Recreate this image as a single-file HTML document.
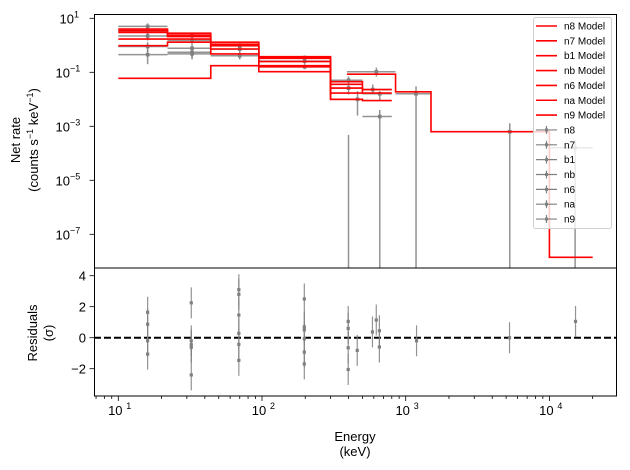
<!DOCTYPE html>
<html><head><meta charset="utf-8">
<style>
html,body{margin:0;padding:0;background:#fff;}
svg{display:block;font-family:"Liberation Sans","DejaVu Sans",sans-serif;}
</style></head>
<body>
<svg id="chart" width="630" height="470" viewBox="0 0 630 470" xmlns="http://www.w3.org/2000/svg">
<defs>
<clipPath id="clipMain"><rect x="94" y="14" width="523" height="254"/></clipPath>
<clipPath id="clipRes"><rect x="94" y="268" width="523" height="128"/></clipPath>
</defs>
<rect x="0" y="0" width="630" height="470" fill="#fff"/>
<g id="mainMarks" clip-path="url(#clipMain)"></g>
<g id="resMarks" clip-path="url(#clipRes)"></g>
<g id="axes"></g>
<text x="20" y="140" transform="rotate(-90 20 140)" text-anchor="middle" font-size="13">Net rate</text>
<text x="38" y="140" transform="rotate(-90 38 140)" text-anchor="middle" font-size="13">(counts s<tspan font-size="9" dy="-5">−1</tspan><tspan dy="5"> keV</tspan><tspan font-size="9" dy="-5">−1</tspan><tspan dy="5">)</tspan></text>
<text x="37" y="333" transform="rotate(-90 37 333)" text-anchor="middle" font-size="13">Residuals</text>
<text x="53" y="333" transform="rotate(-90 53 333)" text-anchor="middle" font-size="13">(σ)</text>
<text x="355" y="441" text-anchor="middle" font-size="13">Energy</text>
<text x="355" y="456" text-anchor="middle" font-size="13">(keV)</text>
</svg>
<script>
// ---- data ----
const detectors = ["n8","n7","b1","nb","n6","na","n9"];
const modelEdges = [
  [10,22,44,95,300,500,800],
  [10,22,44,95,300,500],
  [390,850,1500,10000,20000],
  [10,22,44,95,300,500,800],
  [10,22,44,95,300,500],
  [10,22,44,95,300,500,800],
  [10,44,300,500]
];
const modelValues = [
  [4.0,2.8,1.3,0.38,0.045,0.023],
  [3.5,2.4,1.1,0.33,0.036],
  [0.085,0.019,6.3e-4,1.4e-8],
  [3.0,2.1,0.97,0.25,0.026,0.017],
  [1.7,1.7,0.73,0.16,0.017],
  [0.97,1.3,0.48,0.105,0.01,0.009],
  [0.06,0.176,0.01]
];
const ptE   = [16,16,16,16,16, 32.6,32.6,32.6,32.6,32.6, 70,70,70, 198,198,198, 400,400,462,400, 590,660,660, 625,1180,5300,15100];
const ptElo = [10,10,10,10,10, 22,22,22,22,22, 44,44,44, 95,95,95, 300,300,300,300, 500,500,500, 390,850,1500,10000];
const ptEhi = [22,22,22,22,22, 44,44,44,44,44, 95,95,95, 300,300,300, 500,500,500,500, 800,800,800, 850,1500,10000,20000];
const ptY   = [5.0,3.3,2.2,0.9,0.45, 2.3,1.5,0.78,0.55,0.48, 0.95,0.72,0.41, 0.35,0.26,0.16, 0.051,0.026,0.01,1e-9, 0.023,0.016,0.0023, 0.105,0.016,6.3e-4,1.6e-4];
const ptYlo = [3.5,2.3,1.5,0.55,0.2, 1.6,1.0,0.5,0.35,0.3, 0.7,0.5,0.3, 0.28,0.2,0.13, 0.035,0.015,0.0025,1e-10, 0.015,0.009,1e-10, 0.07,1e-10,1e-10,1e-10];
const ptYhi = [6.5,4.3,3.0,1.3,0.7, 3.0,2.0,1.0,0.75,0.65, 1.2,0.95,0.55, 0.42,0.32,0.2, 0.07,0.035,0.02,4.8e-4, 0.035,0.02,0.004, 0.15,0.03,1.3e-3,3e-4];
const resE = [16,16,16,16, 32.2,32.2,32.2,32.2,32.2, 69,69,69,69,69,69, 197,197,197,197,197,197, 398,398,398,398, 460, 587, 624, 656,656, 1190, 5280, 15200];
const resV = [1.64,0.87,-0.2,-1.06, 2.25,-0.2,-0.45,-0.62,-2.4, 3.1,2.8,1.46,0.28,-0.43,-1.46, 2.5,0.7,0.5,-0.07,-0.93,-1.69, 1.05,0.6,-0.65,-2.05, -0.82, 0.37, 1.14, 0.45,-0.6, -0.2, 0.0, 1.05];
const resErr = 1.0;
const xMajorTicks = [10,100,1000,10000];
const xTickExp = ["1","2","3","4"];
const yMajorTicks = [10,0.1,1e-3,1e-5,1e-7];
const yTickExp = ["1","−1","−3","−5","−7"];
const resTicks = [4,2,0,-2];

// ---- scales ----
const X0 = 118.3, XDEC = 143.7;
function xs(e){ return X0 + (Math.log10(e)-1)*XDEC; }
function ys(v){ return 18.3 + (1 - Math.log10(v))*27; }
function rs(v){ return 337.7 - v*15.5; }
const NS = "http://www.w3.org/2000/svg";
function mk(parent, tag, attrs){ const el=document.createElementNS(NS,tag); for(const k in attrs) el.setAttribute(k,attrs[k]); parent.appendChild(el); return el; }
const main = document.getElementById('mainMarks');
const res = document.getElementById('resMarks');
const axes = document.getElementById('axes');
const GRAY = "#808080";

// data points (main)
for(let i=0;i<ptE.length;i++){
  const g = mk(main,'g',{});
  
  
  const y = ys(ptY[i]);
  mk(g,'line',{x1:xs(ptElo[i]),x2:xs(ptEhi[i]),y1:y,y2:y,stroke:GRAY,'stroke-width':1.5,'stroke-opacity':0.85});
  mk(g,'line',{x1:xs(ptE[i]),x2:xs(ptE[i]),y1:ys(ptYlo[i]),y2:ys(ptYhi[i]),stroke:GRAY,'stroke-width':1.5,'stroke-opacity':0.85});
  mk(g,'rect',{x:xs(ptE[i])-1.8,y:y-1.8,width:3.6,height:3.6,fill:GRAY});
}
// models
for(let m=0;m<detectors.length;m++){
  const ed = modelEdges[m], vals = modelValues[m];
  let d = "";
  for(let j=0;j<vals.length;j++){
    const y = ys(vals[j]);
    d += (j===0?"M":"L")+xs(ed[j]).toFixed(2)+","+y.toFixed(2)+" L"+xs(ed[j+1]).toFixed(2)+","+y.toFixed(2)+" ";
  }
  const p = mk(main,'path',{d:d,fill:'none',stroke:'#ff0000','stroke-width':1.6});
  
  
}
// residuals
const zl = mk(res,'line',{x1:94,x2:617,y1:rs(0),y2:rs(0),stroke:'#000','stroke-width':2,'stroke-dasharray':'7,3'});


for(let i=0;i<resE.length;i++){
  const g = mk(res,'g',{});
  
  
  const x = xs(resE[i]), y = rs(resV[i]);
  mk(g,'line',{x1:x,x2:x,y1:rs(resV[i]-resErr),y2:rs(resV[i]+resErr),stroke:GRAY,'stroke-width':1.2,'stroke-opacity':0.85});
  mk(g,'rect',{x:x-1.6,y:y-1.6,width:3.2,height:3.2,fill:GRAY});
}
// frames
const f1 = mk(axes,'rect',{x:94.5,y:14.5,width:522,height:253.5,fill:'none',stroke:'#000','stroke-width':1});


const f2 = mk(axes,'rect',{x:94.5,y:268,width:522,height:128,fill:'none',stroke:'#000','stroke-width':1});


// x ticks
for(let dec=0; dec<5; dec++){
  for(let k=1;k<10;k++){
    const e = k*Math.pow(10,dec);
    const x = xs(e);
    if(x<94.5||x>616.5) continue;
    const len = k===1?5:3;
    mk(axes,'line',{x1:x,x2:x,y1:396,y2:396+len,stroke:'#000','stroke-width':0.8});
  }
}
for(let i=0;i<xMajorTicks.length;i++){
  const x = xs(xMajorTicks[i]);
  const t = mk(axes,'text',{x:x-3,y:415,'text-anchor':'middle','font-size':13});
  
  
  t.textContent = "10";
  const s = mk(axes,'text',{x:x+8,y:409,'font-size':9});
  s.textContent = xTickExp[i];
}
// y ticks main
for(let i=0;i<yMajorTicks.length;i++){
  const y = ys(yMajorTicks[i]);
  mk(axes,'line',{x1:89.5,x2:94.5,y1:y,y2:y,stroke:'#000','stroke-width':0.8});
  const t = mk(axes,'text',{x:yTickExp[i].length>1?70:74,y:y+5,'text-anchor':'end','font-size':13});
  
  
  t.textContent = "10";
  const s = mk(axes,'text',{x:yTickExp[i].length>1?70:74,y:y-1,'font-size':9});
  s.textContent = yTickExp[i];
}
// residual ticks
for(let i=0;i<resTicks.length;i++){
  const y = rs(resTicks[i]);
  mk(axes,'line',{x1:89.5,x2:94.5,y1:y,y2:y,stroke:'#000','stroke-width':0.8});
  const t = mk(axes,'text',{x:86,y:y+5,'text-anchor':'end','font-size':13});
  
  
  t.textContent = resTicks[i]<0 ? "−"+Math.abs(resTicks[i]) : String(resTicks[i]);
}
// legend
const lg = mk(axes,'g',{});


mk(lg,'rect',{x:533.5,y:17.5,width:78,height:211,rx:2,fill:'#fff','fill-opacity':0.8,stroke:'#d0d0d0','stroke-width':1});
for(let i=0;i<14;i++){
  const y = 26 + i*14.85;
  const e = mk(lg,'g',{});
  
  
  if(i<7){
    mk(e,'line',{x1:536,x2:557,y1:y,y2:y,stroke:'#ff0000','stroke-width':1.6});
    const t = mk(e,'text',{x:564,y:y+3.5,'font-size':10});
    t.textContent = detectors[i]+" Model";
  } else {
    mk(e,'line',{x1:536,x2:557,y1:y,y2:y,stroke:GRAY,'stroke-width':1.2});
    mk(e,'line',{x1:546.5,x2:546.5,y1:y-4,y2:y+4,stroke:GRAY,'stroke-width':1.2});
    mk(e,'rect',{x:545,y:y-1.5,width:3,height:3,fill:GRAY});
    const t = mk(e,'text',{x:564,y:y+3.5,'font-size':10});
    t.textContent = detectors[i-7];
  }
}
</script>
</body></html>
